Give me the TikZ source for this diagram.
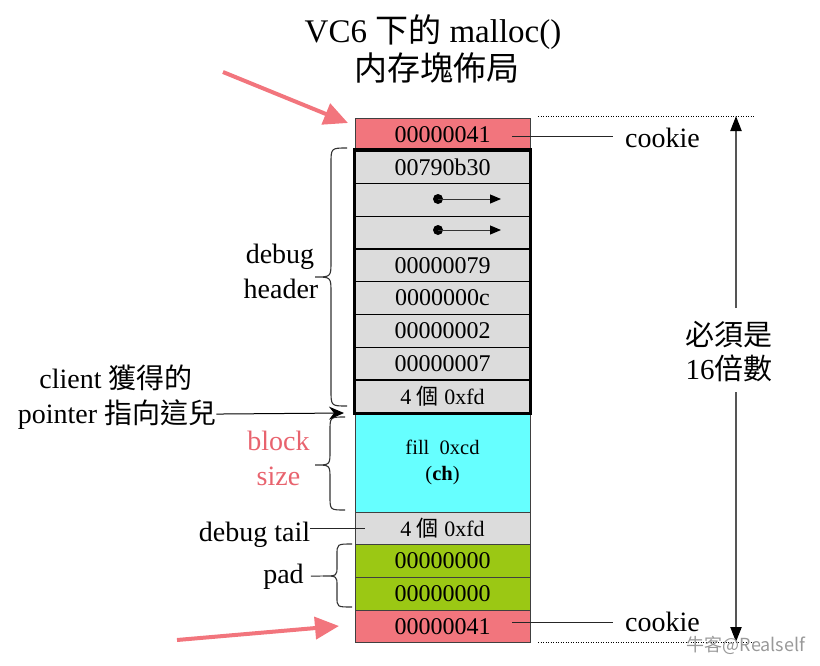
\documentclass[tikz,border=0pt]{standalone}
\usepackage{fontspec}
\setmainfont{Liberation Serif}
\newfontfamily\cjk{Noto Sans CJK TC}
\newfontfamily\cjksc{Noto Sans CJK SC}
\usetikzlibrary{arrows.meta,calc}
\definecolor{ckred}{HTML}{F2757D}
\definecolor{cellgray}{HTML}{DCDCDC}
\definecolor{fillcyan}{HTML}{66FFFF}
\definecolor{padgreen}{HTML}{9BC814}
\definecolor{redtxt}{HTML}{E8636E}
\definecolor{dimgray}{HTML}{555555}
\begin{document}
\begin{tikzpicture}[x=1pt,y=-1pt,
  cell/.style={draw=black!75, line width=0.8pt, minimum width=175pt, inner sep=0pt,
    font=\fontsize{24}{27}\selectfont, anchor=north},
  hcell/.style={cell, draw=black, line width=1.3pt},
  smallcell/.style={font=\fontsize{22}{26}\selectfont},
  lab/.style={font=\fontsize{28}{32}\selectfont, inner sep=0pt, anchor=base},
  titletext/.style={font=\fontsize{33}{38}\selectfont, inner sep=0pt, anchor=base},
  bracestyle/.style={draw=black!80, line width=1.1pt},
  thinline/.style={draw=black!85, line width=0.9pt},
  dotline/.style={draw=black, line width=1pt, dash pattern=on 1pt off 1.5pt},
  dimarrow/.style={draw=dimgray, line width=2.2pt, -{Triangle[length=15pt,width=11pt,color=black]}},
  redarrow/.style={draw=ckred, line width=4pt, -{Triangle[length=24pt,width=22pt]}},
  rowarrow/.style={draw=black!80, line width=1pt, -{Triangle[length=11pt,width=9pt,color=black]}},
  dotnode/.style={circle, fill=black, inner sep=0pt, minimum size=10pt},
  ptrarrow/.style={draw=black, line width=1pt, -{Stealth[length=15pt,width=13pt,inset=5pt]}}
]
\useasboundingbox (0,0) rectangle (820,665);

% title
\node[titletext] (t1) at (433,42) {VC6 {\cjk 下的} malloc()};
\node[titletext] (t2) at (437,80) {\cjk 内存塊佈局};

% cells
\node[cell, fill=ckred, minimum height=32pt] (ck1) at (442.5,118) {00000041};
\node[hcell, fill=cellgray, minimum height=32.75pt] (h1) at (442.5,150) {00790b30};
\node[hcell, fill=cellgray, minimum height=32.75pt] (h2) at (442.5,182.75) {};
\node[hcell, fill=cellgray, minimum height=32.75pt] (h3) at (442.5,215.5) {};
\node[hcell, fill=cellgray, minimum height=32.75pt] (h4) at (442.5,248.25) {00000079};
\node[hcell, fill=cellgray, minimum height=32.75pt] (h5) at (442.5,281) {0000000c};
\node[hcell, fill=cellgray, minimum height=32.75pt] (h6) at (442.5,313.75) {00000002};
\node[hcell, fill=cellgray, minimum height=32.75pt] (h7) at (442.5,346.5) {00000007};
\node[hcell, smallcell, fill=cellgray, minimum height=32.75pt] (h8) at (442.5,379.25) {4 {\cjk 個} 0xfd};
\node[cell, fill=fillcyan, minimum height=100pt, align=center,
      font=\fontsize{20.5}{26}\selectfont] (fill) at (442.5,412) {fill\ \ 0xcd\\(\textbf{ch})};
\node[cell, smallcell, fill=cellgray, minimum height=32pt] (tail) at (442.5,512) {4 {\cjk 個} 0xfd};
\node[cell, fill=padgreen, minimum height=33pt] (pad1) at (442.5,544) {00000000};
\node[cell, fill=padgreen, minimum height=33pt] (pad2) at (442.5,577) {00000000};
\node[cell, fill=ckred, minimum height=32pt] (ck2) at (442.5,610) {00000041};

% debug header frame
\draw[line width=3.5pt, black] (h1.north west) rectangle (h8.south east);

% pointer arrows inside rows
\node[dotnode] (d1) at (438,199) {};
\coordinate (e1) at (501,199);
\draw[rowarrow] (d1.center) -- (e1);
\node[dotnode] (d2) at (438,230) {};
\coordinate (e2) at (501,230);
\draw[rowarrow] (d2.center) -- (e2);

% left labels
\node[lab] (dbg1) at (280,263) {debug};
\node[lab] (dbg2) at (281,298) {header};
\node[lab] (cli1) at (116,388) {client {\cjk 獲得的}};
\node[lab] (cli2) at (117,423) {pointer {\cjk 指向這兒}};
\node[lab, text=redtxt] (bs1) at (278.5,450) {block};
\node[lab, text=redtxt] (bs2) at (278.5,485) {size};
\node[lab] (dtail) at (254.5,541) {debug tail};
\node[lab] (padl) at (283.5,583) {pad};

% braces
\draw[bracestyle] (347,148) .. controls (331,148) .. (331,164) -- (331,261)
  .. controls (331,277) .. (315,277) .. controls (331,277) .. (331,293)
  -- (331,390) .. controls (331,406) .. (347,406);
\draw[bracestyle] (345,417) .. controls (330,417) .. (330,431) -- (330,451)
  .. controls (330,465) .. (315,465) .. controls (330,465) .. (330,479)
  -- (330,496) .. controls (330,510) .. (345,510);
\coordinate (padtip) at (323,576);
\draw[bracestyle] (352,544) .. controls (337,544) .. (337,555) -- (337,566)
  .. controls (337,576) .. (padtip) .. controls (337,576) .. (337,586)
  -- (337,597) .. controls (337,607) .. (352,607);

% connectors on the left
\coordinate (ptrtip) at (344,413);
\draw[ptrarrow] (cli2.east) -- (ptrtip);
\draw[thinline] (dtail.east |- tail.center) -- ($(tail.west)+(10,0)$);
\draw[thinline, shorten <=7pt] (padl.east) -- (padtip);

% right labels
\node[lab] (cklab1) at (662.5,147) {cookie};
\node[lab] (cklab2) at (662.5,631) {cookie};
\coordinate (c1a) at ($(ck1.east)+(-18,2)$);
\draw[thinline, shorten >=12pt] (c1a) -- (c1a -| cklab1.west);
\coordinate (c2a) at ($(ck2.east)+(-18,-4)$);
\draw[thinline, shorten >=12pt] (c2a) -- (c2a -| cklab2.west);

% dotted extents
\coordinate (dt1) at (538,116);
\coordinate (dt2) at (755,116);
\coordinate (db1) at (538,642);
\coordinate (db2) at (755,642);
\draw[dotline] (dt1) -- (dt2);
\draw[dotline] (db1) -- (db2);

% dimension arrow
\node[lab, font=\fontsize{29}{33}\selectfont] (m1) at (729,345) {\cjk 必須是};
\node[lab, font=\fontsize{29}{33}\selectfont] (m2) at (729,379) {16{\cjk 倍數}};
\coordinate (dimA) at (736,308);
\coordinate (dimtop) at (736,116);
\coordinate (dimB) at (736,392);
\coordinate (dimbot) at (736,642);
\draw[dimarrow] (dimA) -- (dimtop);
\draw[dimarrow] (dimB) -- (dimbot);

% red arrows
\coordinate (ra1) at (223,72);
\coordinate (ra1t) at (348,123);
\draw[redarrow] (ra1) -- (ra1t);
\coordinate (ra2) at (177,640);
\coordinate (ra2t) at (339,626);
\draw[redarrow] (ra2) -- (ra2t);

% watermark
\node[inner sep=0pt, anchor=base, text=black!40, font=\cjksc\fontsize{18}{20}\selectfont] (wm) at (746,651) {牛客@Realself};
\end{tikzpicture}
\end{document}
